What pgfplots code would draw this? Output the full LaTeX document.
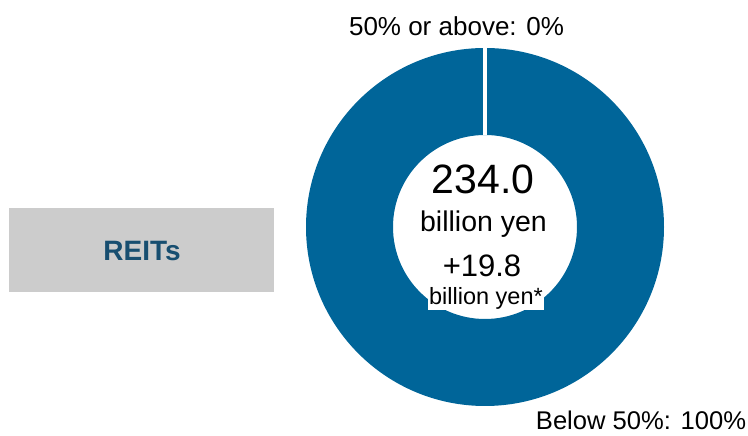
\documentclass[border=0pt]{standalone}
\usepackage{pgfplots}
\pgfplotsset{compat=1.18}
\usepackage{pgfplotstable}
\usepackage{fontspec}
\setmainfont{Liberation Sans}
\definecolor{donut}{RGB}{0,101,153}
\definecolor{boxgray}{RGB}{204,204,204}
\definecolor{labblue}{RGB}{23,78,112}
\pgfplotstableread{
share value
above 0
below 100
}\slices
\begin{document}
\begin{tikzpicture}
\begin{axis}[
  width=748pt, height=436pt, scale only axis,
  xmin=0, xmax=748, ymin=0, ymax=436,
  hide axis, clip=false,
]
\addplot[draw=none] coordinates {(0,0) (748,436)};
% donut: below 50% = 100 (full ring), 50% or above = 0 (zero-width slice)
\fill[donut, even odd rule] (axis cs:485,209) circle[radius=179pt] (axis cs:485,209) circle[radius=92pt];
\draw[white, line width=3.5pt] (axis cs:485,301) -- (axis cs:485,389);
% labels
\node[anchor=base, inner sep=0pt, font=\fontsize{26}{30}\selectfont] at (axis cs:456.5,400) {50\% or above: 0\%};
\node[anchor=base, inner sep=0pt, font=\fontsize{25.6}{30}\selectfont] at (axis cs:641,6) {Below 50\%: 100\%};
% center text
\node[anchor=base, inner sep=0pt, font=\fontsize{41}{46}\selectfont] at (axis cs:483,242) {234.0};
\node[anchor=base, inner sep=0pt, font=\fontsize{28.5}{32}\selectfont] at (axis cs:483.5,204.5) {billion yen};
\node[anchor=base, inner sep=0pt, font=\fontsize{31}{36}\selectfont] at (axis cs:482,159) {+19.8};
\node[anchor=base, inner xsep=1pt, inner ysep=0.5pt, fill=white, font=\fontsize{23.5}{28}\selectfont] at (axis cs:486,131) {billion yen*};
% REITs box
\fill[boxgray] (axis cs:9,144) rectangle (axis cs:274,228);
\node[anchor=center, inner sep=0pt, text=labblue, font=\bfseries\fontsize{28}{32}\selectfont] at (axis cs:142,185) {REITs};
\end{axis}
\end{tikzpicture}
\end{document}
